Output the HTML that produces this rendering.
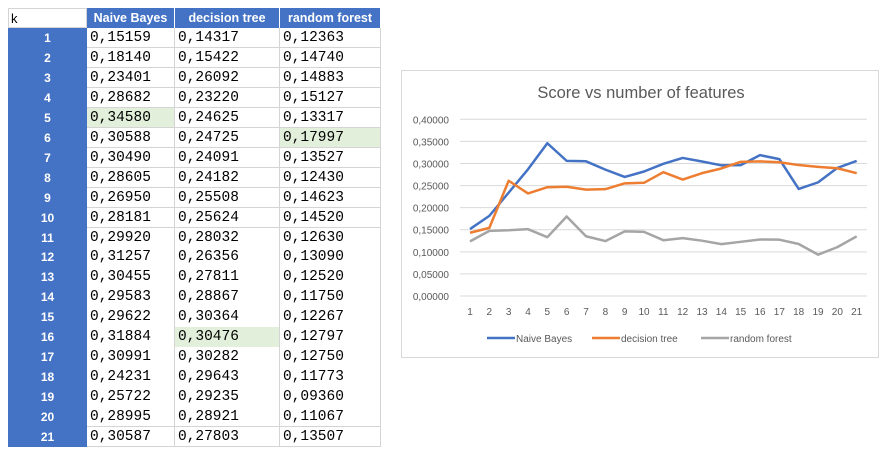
<!DOCTYPE html>
<html><head><meta charset="utf-8"><style>
body{margin:0;width:889px;height:452px;background:#fff;position:relative;overflow:hidden;font-family:"Liberation Sans",sans-serif}
.c{position:absolute;box-sizing:border-box;white-space:nowrap;overflow:hidden}
</style></head><body>
<div id="tbl"></div>
<svg id="chart" width="889" height="452" style="position:absolute;left:0;top:0;pointer-events:none"></svg>
<script>
const kLabels=[1,2,3,4,5,6,7,8,9,10,11,12,13,14,15,16,17,18,19,20,21];
const naiveBayes=[0.15159,0.18140,0.23401,0.28682,0.34580,0.30588,0.30490,0.28605,0.26950,0.28181,0.29920,0.31257,0.30455,0.29583,0.29622,0.31884,0.30991,0.24231,0.25722,0.28995,0.30587];
const decisionTree=[0.14317,0.15422,0.26092,0.23220,0.24625,0.24725,0.24091,0.24182,0.25508,0.25624,0.28032,0.26356,0.27811,0.28867,0.30364,0.30476,0.30282,0.29643,0.29235,0.28921,0.27803];
const randomForest=[0.12363,0.14740,0.14883,0.15127,0.13317,0.17997,0.13527,0.12430,0.14623,0.14520,0.12630,0.13090,0.12520,0.11750,0.12267,0.12797,0.12750,0.11773,0.09360,0.11067,0.13507];
const yTicks=[0,0.05,0.10,0.15,0.20,0.25,0.30,0.35,0.40];
const seriesNames=["Naive Bayes","decision tree","random forest"];
const colors=["#4472c4","#ed7d31","#a5a5a5"];
const fmt=v=>v.toFixed(5).replace('.',',');

const tbl=document.getElementById('tbl');
const colX=[8,87,175,280,381];
const top0=8,hh=20,rh=19.95;
function cell(x,y,w,h,txt,style,name){
  const d=document.createElement('div');d.className='c';
  d.style.cssText=`left:${x}px;top:${y}px;width:${w}px;height:${h}px;line-height:${h}px;`+style;
  d.textContent=txt;
  
  
  tbl.appendChild(d);
}
cell(8,top0,79,hh,'k','border:1px solid #d4d4d4;padding-left:2px;font-size:13px;color:#000;','header-k');
const hdr=["Naive Bayes","decision tree","random forest"];
for(let j=0;j<3;j++) cell(colX[j+1],top0,colX[j+2]-colX[j+1],hh,hdr[j],'background:#4472c4;color:#fff;font-weight:bold;font-size:12.5px;text-align:center;border-right:1px solid #fff;','header-'+j);
const hl={"4-0":1,"5-2":1,"15-1":1};
const data=[naiveBayes,decisionTree,randomForest];
for(let i=0;i<21;i++){
  const y=top0+hh+i*rh;
  cell(8,y,79,rh+0.5,String(kLabels[i]),'background:#4472c4;color:#fff;font-weight:bold;font-size:12px;text-align:center;','row-label-'+kLabels[i]);
  for(let j=0;j<3;j++){
    const bg=hl[i+'-'+j]?'#e2efda':'#fff';
    cell(colX[j+1],y,colX[j+2]-colX[j+1],rh+0.5,fmt(data[j][i]),`background:${bg};border-right:1px solid #d4d4d4;border-bottom:1px solid #d4d4d4;font-family:"Liberation Mono",monospace;font-size:14.5px;padding-left:3px;color:#000;`,'cell-'+(i+1)+'-'+j);
  }
}

const svg=document.getElementById('chart');const NS='http://www.w3.org/2000/svg';
function el(t,a,name,txt){const e=document.createElementNS(NS,t);for(const k in a)e.setAttribute(k,a[k]);
  
  
  if(txt!==undefined)e.textContent=txt;svg.appendChild(e);return e;}
el('rect',{x:401.5,y:70.5,width:477,height:287,fill:'#fff',stroke:'#d9d9d9'},'chart-area');
el('text',{x:641,y:98,'text-anchor':'middle','font-size':'16.5','fill':'#595959'},'chart-title','Score vs number of features');
const x0=470,x1=856.7,yb=296,yt=119.3,ymax=0.40;
const X=i=>x0+(x1-x0)*i/(kLabels.length-1);
const Y=v=>yb-(yb-yt)*v/ymax;
yTicks.forEach(v=>{
  el('line',{x1:460,x2:867,y1:Y(v),y2:Y(v),stroke:'#d9d9d9','stroke-width':1},'gridline');
  el('text',{x:449,y:Y(v)+4,'text-anchor':'end','font-size':'10','fill':'#595959'},'y-tick-label',fmt(v));
});
kLabels.forEach((k,i)=>el('text',{x:X(i),y:315,'text-anchor':'middle','font-size':'10','fill':'#595959'},'x-tick-label',String(k)));
data.forEach((s,j)=>{
  el('polyline',{points:s.map((v,i)=>X(i)+','+Y(v)).join(' '),fill:'none',stroke:colors[j],'stroke-width':2.5,'stroke-linejoin':'round'},'line-'+seriesNames[j].replace(' ','-').toLowerCase());
});
const lx=[487,592,701];
seriesNames.forEach((n,j)=>{
  el('line',{x1:lx[j],x2:lx[j]+28,y1:338,y2:338,stroke:colors[j],'stroke-width':2.5},'legend-swatch');
  el('text',{x:lx[j]+29,y:342,'font-size':'10','fill':'#595959'},'legend-entry',n);
});
</script>
</body></html>
